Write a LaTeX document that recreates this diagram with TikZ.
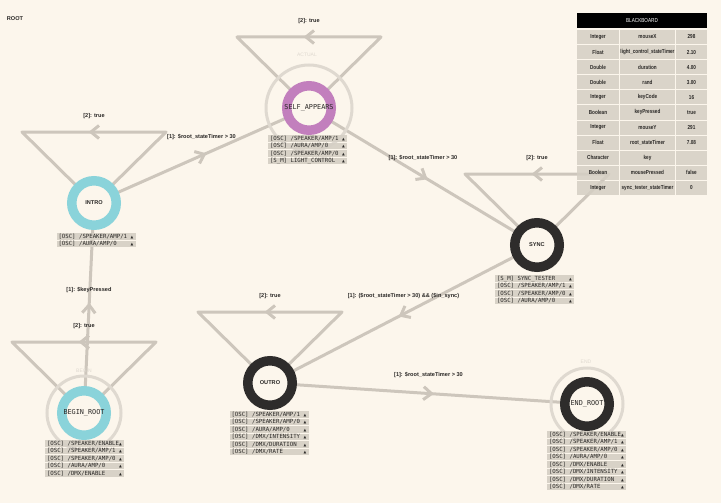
\documentclass[tikz,border=0pt]{standalone}
\usepackage{fontspec}
\setmainfont{Liberation Sans}
\newfontfamily\monof{DejaVu Sans Mono}
\newfontfamily\djv{DejaVu Sans}
\newfontfamily\bbf[FakeStretch=0.8]{Liberation Sans}
\usetikzlibrary{calc,decorations.markings}
\definecolor{bg}{HTML}{FCF6EC}
\definecolor{edgegray}{HTML}{CDC6BC}
\definecolor{actgray}{HTML}{DFD9D0}
\definecolor{boxgray}{HTML}{D5CFC4}
\definecolor{cyanring}{HTML}{8AD3DA}
\definecolor{purplering}{HTML}{C27FBD}
\definecolor{darkring}{HTML}{2E2C2B}
\definecolor{txtdark}{HTML}{2A2826}
\pgfdeclarelayer{bglayer}
\pgfdeclarelayer{edgelayer}
\pgfsetlayers{bglayer,edgelayer,main}
\newcommand\tri{{\djv\fontsize{3.6pt}{3.6pt}\selectfont ▲}}
\newcommand\rowtxt[1]{\makebox[75pt][l]{\rlap{#1}\hfill\tri}}
\newcommand\infobox[4]{%
  \foreach \t [count=\i] in {#4} {
    \node[inforow] (#1\i) at (#2, {#3+(\i-1)*7.5}) {\rowtxt{\t}};
  }}
\tikzset{
  edge/.style={draw=edgegray, line width=3pt, line join=round},
  chev/.style={postaction={decorate}, decoration={markings,
      mark=at position 0.5 with {\draw[edgegray, line width=3pt, line join=round]
        (-5pt,-6.5pt)--(3pt,0pt)--(-5pt,6.5pt);}}},
  ring/.style={circle, fill=bg, line width=9.5pt, minimum size=44.5pt, inner sep=0pt, outer sep=0pt},
  actual/.style={draw=actgray, line width=3pt},
  actlbl/.style={text=actgray, font=\fontsize{5pt}{5pt}\selectfont, inner sep=0pt},
  bignm/.style={text=txtdark, font=\monof\fontsize{6.8pt}{6.8pt}\selectfont, inner sep=0pt},
  smallnm/.style={text=txtdark, font=\bfseries\fontsize{5.6pt}{5.6pt}\selectfont, inner sep=0pt},
  lbl/.style={text=txtdark, font=\bfseries\fontsize{5.6pt}{5.6pt}\selectfont, inner sep=0pt},
  inforow/.style={fill=boxgray, inner xsep=2pt, inner ysep=0pt, minimum height=6.6pt,
      text height=4.5pt, text depth=1pt, anchor=north, text=txtdark,
      font=\monof\fontsize{5.7pt}{5.7pt}\selectfont, fill opacity=0.9, text opacity=1},
  bbcell/.style={fill=boxgray, inner sep=0pt, minimum height=14.1pt, text=txtdark,
      font=\bbf\bfseries\fontsize{5.8pt}{5.8pt}\selectfont, fill opacity=0.85, text opacity=1},
}
\begin{document}
\begin{tikzpicture}[x=1pt,y=-1pt]
\useasboundingbox (0,0) rectangle (721,503);
\begin{pgfonlayer}{bglayer}
  \fill[bg] (0,0) rectangle (721,503);
\end{pgfonlayer}

\node[lbl] (rootlbl) at (15,19) {ROOT};

% outer "actual" circles
\draw[actual] (309,108) circle[radius=43];
\draw[actual] (84,413) circle[radius=37];
\draw[actual] (587,404) circle[radius=36];
\node[actlbl] (actlblA) at (307,55) {ACTUAL};
\node[actlbl] (actlblB) at (84,371) {BEGIN};
\node[actlbl] (actlblE) at (586,362) {END};

% state rings
\node[ring, draw=purplering] (self) at (309,108) {};
\node[ring, draw=cyanring] (intro) at (94,203) {};
\node[ring, draw=darkring] (sync) at (537,245) {};
\node[ring, draw=darkring] (outro) at (270,383) {};
\node[ring, draw=darkring] (endr) at (587,404) {};
\node[ring, draw=cyanring] (begin) at (84,413) {};

\node[bignm] (selfT) at (self.center) {SELF\_APPEARS};
\node[smallnm] (introT) at (intro.center) {INTRO};
\node[smallnm] (syncT) at (sync.center) {SYNC};
\node[smallnm] (outroT) at (outro.center) {OUTRO};
\node[bignm] (endrT) at (endr.center) {END\_ROOT};
\node[bignm] (beginT) at (begin.center) {BEGIN\_ROOT};

% connectors
\begin{pgfonlayer}{edgelayer}
  \foreach \n in {self,intro,sync,outro,begin} {
    \draw[edge] (\n.center) -- ++(72,-71) coordinate (\n-R) -- ++(-144,0) coordinate (\n-L) -- cycle;
    \path[chev] (\n-R) -- (\n-L);
  }
  \draw[edge,chev] (begin.center) -- (intro.center);
  \draw[edge,chev] (intro.center) -- (self.center);
  \draw[edge,chev] (self.center) -- (sync.center);
  \draw[edge,chev] (sync.center) -- (outro.center);
  \draw[edge,chev] (outro.center) -- (endr.center);
\end{pgfonlayer}

% connector labels
\foreach \n in {self,intro,sync,outro,begin} {
  \node[lbl] (\n-lbl) at ($(\n.center)+(0,-87)$) {[2]: true};
}
\node[lbl] (lbl1) at ($(begin.center)!0.5!(intro.center)+(0,-18)$) {[1]: \$keyPressed};
\node[lbl] (lbl2) at ($(intro.center)!0.5!(self.center)+(0,-18)$) {[1]: \$root\_stateTimer > 30};
\node[lbl] (lbl3) at ($(self.center)!0.5!(sync.center)+(0,-18)$) {[1]: \$root\_stateTimer > 30};
\node[lbl] (lbl4) at ($(sync.center)!0.5!(outro.center)+(0,-18)$) {[1]: (\$root\_stateTimer > 30) \&\& (\$in\_sync)};
\node[lbl] (lbl5) at ($(outro.center)!0.5!(endr.center)+(0,-18)$) {[1]: \$root\_stateTimer > 30};

% info boxes
\infobox{selfbox}{307.5}{135}{{[OSC] /SPEAKER/AMP/1},{[OSC] /AURA/AMP/0},{[OSC] /SPEAKER/AMP/0},{[S\_M] LIGHT\_CONTROL}}
\infobox{introbox}{96}{233}{{[OSC] /SPEAKER/AMP/1},{[OSC] /AURA/AMP/0}}
\infobox{syncbox}{534.5}{275}{{[S\_M] SYNC\_TESTER},{[OSC] /SPEAKER/AMP/1},{[OSC] /SPEAKER/AMP/0},{[OSC] /AURA/AMP/0}}
\infobox{outrobox}{269}{411}{{[OSC] /SPEAKER/AMP/1},{[OSC] /SPEAKER/AMP/0},{[OSC] /AURA/AMP/0},{[OSC] /DMX/INTENSITY},{[OSC] /DMX/DURATION},{[OSC] /DMX/RATE}}
\infobox{beginbox}{84.5}{440}{{[OSC] /SPEAKER/ENABLE},{[OSC] /SPEAKER/AMP/1},{[OSC] /SPEAKER/AMP/0},{[OSC] /AURA/AMP/0},{[OSC] /DMX/ENABLE}}
\infobox{endbox}{586.5}{431}{{[OSC] /SPEAKER/ENABLE},{[OSC] /SPEAKER/AMP/1},{[OSC] /SPEAKER/AMP/0},{[OSC] /AURA/AMP/0},{[OSC] /DMX/ENABLE},{[OSC] /DMX/INTENSITY},{[OSC] /DMX/DURATION},{[OSC] /DMX/RATE}}

% blackboard
\node[fill=black, text=white, minimum width=130pt, minimum height=15pt, inner sep=0pt,
      font=\bbf\fontsize{5.8pt}{5.8pt}\selectfont] (bbh) at (642,20.5) {BLACKBOARD};
\foreach \a/\b/\c [count=\i] in {Integer/mouseX/298, Float/light\_control\_stateTimer/2.10,
    Double/duration/4.00, Double/rand/3.00, Integer/keyCode/16, Boolean/keyPressed/true,
    Integer/mouseY/291, Float/root\_stateTimer/7.08, Character/key/{}, Boolean/mousePressed/false,
    Integer/sync\_tester\_stateTimer/0} {
  \node[bbcell, minimum width=42pt] (bba\i) at (598, {37+(\i-1)*15.1}) {\makebox[42pt]{\a}};
  \node[bbcell, minimum width=55pt] (bbb\i) at (647.5, {37+(\i-1)*15.1}) {\makebox[55pt]{\b}};
  \node[bbcell, minimum width=31pt] (bbc\i) at (691.5, {37+(\i-1)*15.1}) {\makebox[31pt]{\c}};
}
\end{tikzpicture}
\end{document}
